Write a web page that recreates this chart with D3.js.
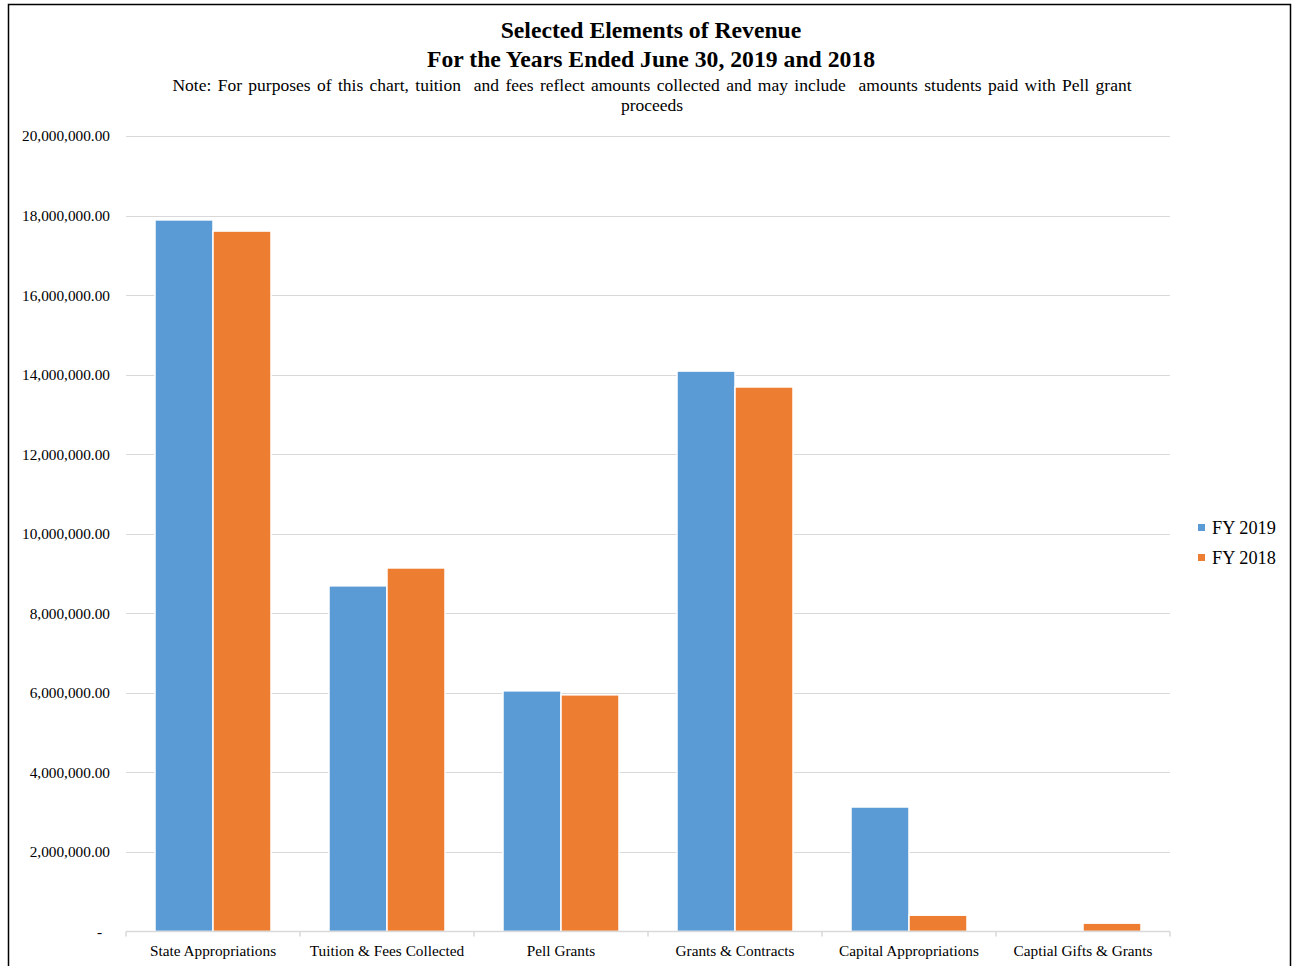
<!DOCTYPE html>
<html>
<head>
<meta charset="utf-8">
<script src="https://cdn.jsdelivr.net/npm/d3@7"></script>
<style>
  html, body { margin: 0; padding: 0; background: #fff; }
  svg { display: block; }
  text { font-family: "Liberation Serif", "Times New Roman", serif; fill: #000; }
</style>
</head>
<body>
<svg id="chart" width="1294" height="966"></svg>
<script>
// Revenue categories and amounts per fiscal year
const categories = [
  "State Appropriations",
  "Tuition & Fees Collected",
  "Pell Grants",
  "Grants & Contracts",
  "Capital Appropriations",
  "Captial Gifts & Grants"
];
const seriesNames = ["FY 2019", "FY 2018"];
const fy2019 = [17890000, 8690000, 6050000, 14090000, 3130000, 0];
const fy2018 = [17610000, 9140000, 5950000, 13690000, 410000, 210000];
const yTicks = [0, 2000000, 4000000, 6000000, 8000000, 10000000, 12000000, 14000000, 16000000, 18000000, 20000000];
const colors = ["#5b9bd5", "#ed7d31"];

const titleLines = ["Selected Elements of Revenue", "For the Years Ended June 30, 2019 and 2018"];
const noteLines = [
  "Note: For purposes of this chart, tuition  and fees reflect amounts collected and may include  amounts students paid with Pell grant",
  "proceeds"
];

const svg = d3.select("#chart");

// Outer chart frame
svg.append("rect")
  .attr("x", 8.5).attr("y", 4.5)
  .attr("width", 1282).attr("height", 975)
  .attr("fill", "none").attr("stroke", "#000").attr("stroke-width", 1.5);

const plot = { left: 126, right: 1170, top: 136, bottom: 931.5 };

const x0 = d3.scaleBand()
  .domain(categories)
  .range([plot.left, plot.right])
  .paddingInner(0).paddingOuter(0);

const x1 = d3.scaleBand()
  .domain(seriesNames)
  .range([0, x0.bandwidth()])
  .paddingInner(0)
  .paddingOuter(0.5);

const y = d3.scaleLinear()
  .domain([0, 20000000])
  .range([plot.bottom, plot.top]);

const fmt = d3.format(",.2f");

// Horizontal gridlines
svg.append("g")
  .selectAll("line")
  .data(yTicks.filter(d => d > 0))
  .join("line")
  .attr("x1", plot.left).attr("x2", plot.right)
  .attr("y1", d => Math.round(y(d)) + 0.5).attr("y2", d => Math.round(y(d)) + 0.5)
  .attr("stroke", "#d9d9d9").attr("stroke-width", 1);

// Y axis labels
const yAxis = d3.axisLeft(y)
  .tickValues(yTicks)
  .tickSize(0)
  .tickPadding(0)
  .tickFormat(d => d === 0 ? "-" : fmt(d));
const yg = svg.append("g")
  .attr("transform", `translate(${plot.left - 16},0)`)
  .call(yAxis);
yg.select(".domain").remove();
yg.selectAll("text")
  .attr("font-family", "Liberation Serif, Times New Roman, serif")
  .attr("font-size", 15.3)
  .attr("fill", "#000");
yg.selectAll(".tick").filter(d => d === 0).select("text").attr("dx", -8);

// Bars
const rows = categories.map((c, i) => ({ category: c, values: [fy2019[i], fy2018[i]] }));
const groups = svg.append("g")
  .selectAll("g")
  .data(rows)
  .join("g")
  .attr("transform", d => `translate(${x0(d.category)},0)`);

groups.selectAll("rect")
  .data(d => d.values.map((v, j) => ({ key: seriesNames[j], value: v, idx: j })))
  .join("rect")
  .filter(d => d.value > 0)
  .attr("x", d => x1(d.key))
  .attr("y", d => y(d.value))
  .attr("width", x1.bandwidth())
  .attr("height", d => y(0) - y(d.value))
  .attr("fill", d => colors[d.idx])
  .attr("stroke", "#fff").attr("stroke-width", 1.5);

// Category axis
const xAxis = d3.axisBottom(x0).tickSize(0).tickPadding(14);
const xg = svg.append("g")
  .attr("transform", `translate(0,${plot.bottom})`)
  .call(xAxis);
xg.select(".domain").attr("stroke", "#d9d9d9").attr("stroke-width", 1.5)
  .attr("d", `M${plot.left},0H${plot.right}`);
xg.selectAll("text")
  .attr("font-family", "Liberation Serif, Times New Roman, serif")
  .attr("font-size", 15.3)
  .attr("fill", "#000");
// Category separator ticks
svg.append("g")
  .selectAll("line")
  .data(categories.map(c => x0(c)).concat([plot.right]))
  .join("line")
  .attr("x1", d => d).attr("x2", d => d)
  .attr("y1", plot.bottom).attr("y2", plot.bottom + 5)
  .attr("stroke", "#d9d9d9").attr("stroke-width", 1.5);

// Titles
svg.append("g").selectAll("text")
  .data(titleLines)
  .join("text")
  .attr("x", 651).attr("y", (d, i) => 38 + i * 29)
  .attr("text-anchor", "middle")
  .attr("font-size", 23.7).attr("font-weight", "bold")
  .text(d => d);

svg.append("g").selectAll("text")
  .data(noteLines)
  .join("text")
  .attr("x", 652).attr("y", (d, i) => 91 + i * 20)
  .attr("text-anchor", "middle")
  .attr("font-size", 17.5)
  .attr("word-spacing", 2)
  .style("white-space", "pre")
  .text(d => d);

// Legend
const legend = svg.append("g").selectAll("g")
  .data(seriesNames)
  .join("g")
  .attr("transform", (d, i) => `translate(1198,${528 + i * 30})`);
legend.append("rect")
  .attr("x", 0).attr("y", -4).attr("width", 7).attr("height", 7)
  .attr("fill", (d, i) => colors[i]);
legend.append("text")
  .attr("x", 14).attr("y", 6)
  .attr("font-size", 18.3)
  .text(d => d);
</script>
</body>
</html>
